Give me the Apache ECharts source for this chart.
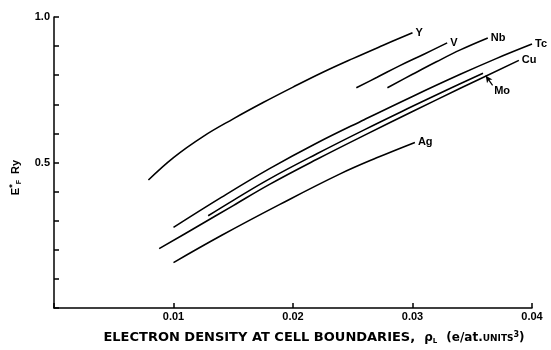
<!DOCTYPE html>
<html>
<head>
<meta charset="utf-8">
<script src="https://cdn.jsdelivr.net/npm/echarts@6/dist/echarts.min.js"></script>
<style>html,body{margin:0;padding:0;background:#fff}#c{width:551px;height:350px}</style>
</head>
<body>
<div id="c"></div>
<script>
// x ticks (electron density) and labelled y ticks (E*F, Ry)
const xTicks = [0, 0.01, 0.02, 0.03, 0.04];
const yLabelled = [0.5, 1.0];

// curves: [density, E*F]
const curveY  = [[0.0079,0.440],[0.0100,0.517],[0.0125,0.590],[0.0150,0.650],[0.0175,0.706],[0.0200,0.759],[0.0225,0.810],[0.0250,0.857],[0.0275,0.902],[0.0300,0.946]];
const curveV  = [[0.0253,0.757],[0.0270,0.792],[0.0289,0.832],[0.0310,0.873],[0.0329,0.911]];
const curveNb = [[0.0279,0.757],[0.0300,0.803],[0.0320,0.846],[0.0340,0.887],[0.0363,0.928]];
const curveTc = [[0.0100,0.277],[0.0140,0.380],[0.0180,0.478],[0.0220,0.567],[0.0260,0.648],[0.0300,0.727],[0.0340,0.803],[0.0370,0.857],[0.0400,0.907]];
const curveCu = [[0.0088,0.204],[0.0120,0.280],[0.0150,0.352],[0.0180,0.424],[0.0220,0.511],[0.0260,0.594],[0.0300,0.675],[0.0340,0.755],[0.0389,0.851]];
const curveMo = [[0.0129,0.317],[0.0150,0.370],[0.0180,0.443],[0.0220,0.530],[0.0260,0.613],[0.0300,0.693],[0.0330,0.752],[0.0359,0.807]];
const curveAg = [[0.0100,0.156],[0.0140,0.249],[0.0189,0.356],[0.0239,0.460],[0.0270,0.516],[0.0302,0.569]];
const moArrow = [[0.0367,0.765],[0.03613,0.7985]];
const moLabelAt = [0.0375,0.7467];

const names = ['Y','V','Nb','Tc','Cu','Mo','Ag'];
const curves = [curveY, curveV, curveNb, curveTc, curveCu, curveMo, curveAg];

const FONT = 'Liberation Sans';
const TFONT = 'DejaVu Sans';
const chart = echarts.init(document.getElementById('c'));
const series = curves.map((d, i) => {
  const s = {
    type: 'line', name: names[i], data: d, smooth: 0.4, showSymbol: false,
    lineStyle: {color: '#000', width: 1.6}, silent: true, animation: false,
    endLabel: {show: names[i] !== 'Mo', formatter: names[i], color: '#000',
      fontFamily: FONT, fontWeight: 'bold', fontSize: 11, distance: 3}
  };
  if (names[i] === 'Mo') {
    s.markLine = {
      silent: true, animation: false, symbol: ['none', 'arrow'], symbolSize: [5, 7],
      lineStyle: {color: '#000', width: 1.2, type: 'solid'},
      label: {show: false},
      data: [[{coord: moArrow[0]}, {coord: moArrow[1]}]]
    };
    s.markPoint = {
      silent: true, animation: false, symbol: 'circle', symbolSize: 0,
      label: {show: true, position: 'inside', formatter: 'Mo', color: '#000',
        fontFamily: FONT, fontWeight: 'bold', fontSize: 11},
      data: [{coord: moLabelAt}]
    };
  }
  return s;
});

chart.setOption({
  animation: false,
  backgroundColor: '#fff',
  grid: {left: 54, right: 19, top: 17, bottom: 34},
  xAxis: {
    type: 'value', min: xTicks[0], max: xTicks[xTicks.length-1], interval: 0.01,
    axisLine: {lineStyle: {color: '#000', width: 1.5}},
    axisTick: {inside: true, length: 5, lineStyle: {color: '#000', width: 1.5}},
    splitLine: {show: false},
    axisLabel: {color: '#000', fontFamily: FONT, fontWeight: 'bold', fontSize: 11, margin: 3,
      formatter: v => (v === 0 ? '' : v.toFixed(2))},
    name: 'ELECTRON DENSITY AT CELL BOUNDARIES,  {r|ρ}{s|L}  {n|(e/at.}{sm|UNITS}{sup|3}{n|)}',
    nameLocation: 'middle', nameGap: 22,
    nameTextStyle: {color: '#000', fontFamily: TFONT, fontWeight: 'bold', fontSize: 13, padding: [0,0,0,42],
      rich: {
        r: {fontFamily: TFONT, fontWeight: 'bold', fontSize: 12, color: '#000'},
        s: {fontFamily: TFONT, fontWeight: 'bold', fontSize: 7, color: '#000', padding: [8,0,0,0]},
        n: {fontFamily: TFONT, fontWeight: 'bold', fontSize: 12, color: '#000'},
        sm: {fontFamily: TFONT, fontWeight: 'bold', fontSize: 9, color: '#000', padding: [2,0,0,0]},
        sup: {fontFamily: TFONT, fontWeight: 'bold', fontSize: 8, color: '#000', padding: [0,0,6,0]}
      }}
  },
  yAxis: {
    type: 'value', min: 0, max: 1.0, interval: 0.1,
    axisLine: {lineStyle: {color: '#000', width: 1.5}},
    axisTick: {inside: true, length: 5, lineStyle: {color: '#000', width: 1.5}},
    splitLine: {show: false},
    axisLabel: {color: '#000', fontFamily: FONT, fontWeight: 'bold', fontSize: 11, margin: 4,
      formatter: v => (yLabelled.some(t => Math.abs(t - v) < 1e-6) ? v.toFixed(1) : '')},
    name: 'E{sup|*}{sub|F}  Ry', nameLocation: 'middle', nameRotate: 90, nameGap: 31,
    nameTextStyle: {color: '#000', fontFamily: FONT, fontWeight: 'bold', fontSize: 11, padding: [0,30,0,0],
      rich: {
        sup: {fontFamily: FONT, fontWeight: 'bold', fontSize: 9, color: '#000', padding: [0,0,6,0]},
        sub: {fontFamily: FONT, fontWeight: 'bold', fontSize: 7, color: '#000', padding: [7,0,0,0]}
      }}
  },
  series: series
});
</script>
</body>
</html>
